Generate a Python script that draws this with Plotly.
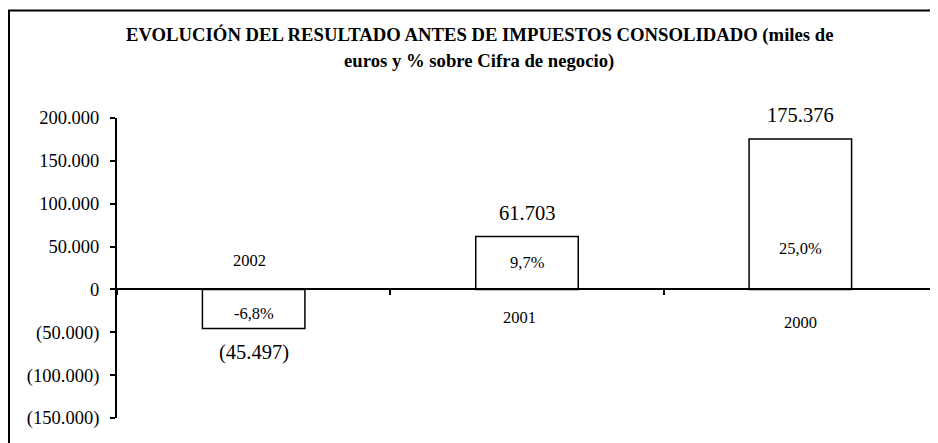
import plotly.graph_objects as go

years = ["2002", "2001", "2000"]
values = [-45497, 61703, 175376]
value_labels = ["(45.497)", "61.703", "175.376"]
pct_labels = ["-6,8%", "9,7%", "25,0%"]
y_ticks = [200000, 150000, 100000, 50000, 0, -50000, -100000, -150000]
y_tick_labels = ["200.000", "150.000", "100.000", "50.000", "0", "(50.000)", "(100.000)", "(150.000)"]
title_lines = ["EVOLUCIÓN DEL RESULTADO ANTES DE IMPUESTOS CONSOLIDADO (miles de",
               "euros y % sobre Cifra de negocio)"]

# page body has an 8px margin: figure drawn 8px in from the window edge
OFF = 8
W, H = 938 - OFF, 443 - OFF
L, R, T, B = 117 - OFF, 1, 118 - OFF, 25
YMIN, YMAX = -150000, 200000
FONT = "Liberation Serif, Times New Roman, serif"

def xp(px):
    return (px - OFF - L) / (W - L - R)

def yp(py):
    return (H - B - (py - OFF)) / (H - T - B)

fig = go.Figure()
fig.add_trace(go.Bar(
    x=years, y=values, width=0.375,
    marker=dict(color="white", line=dict(color="black", width=1.5)),
    hoverinfo="skip", showlegend=False,
))

ann = []
# value labels above/below bars
for i, (v, lab) in enumerate(zip(values, value_labels)):
    ann.append(dict(x=i, y=v, text=lab, showarrow=False, xref="x", yref="y",
                    xanchor="center", yanchor="middle",
                    yshift=24 if v > 0 else -24,
                    font=dict(family=FONT, size=20.5, color="black")))
# percent labels inside bars (placement per bar)
pct_pos = [-28000, 31500, 48000]
for i, (p, lab) in enumerate(zip(pct_pos, pct_labels)):
    ann.append(dict(x=i, y=p, text=lab, showarrow=False, xref="x", yref="y",
                    xanchor="center", yanchor="middle",
                    font=dict(family=FONT, size=16.5, color="black")))
# category labels (placed as in the original)
year_pos = [(249, 260), (519, 317), (800, 322)]
for yr, (px, py) in zip(years, year_pos):
    ann.append(dict(x=xp(px), y=yp(py), text=yr, showarrow=False, xref="paper", yref="paper",
                    xanchor="center", yanchor="middle",
                    font=dict(family=FONT, size=16.5, color="black")))
# title (two lines)
for line, py in zip(title_lines, [35, 61]):
    ann.append(dict(x=xp(479), y=yp(py), xref="paper", yref="paper", showarrow=False,
                    xanchor="center", yanchor="middle", text="<b>" + line + "</b>",
                    font=dict(family=FONT, size=18.7, color="black")))

shapes = [
    dict(type="line", xref="paper", yref="paper", x0=xp(8), x1=xp(950), y0=yp(10.5), y1=yp(10.5),
         line=dict(color="black", width=2)),
    dict(type="line", xref="paper", yref="paper", x0=xp(9), x1=xp(9), y0=yp(10), y1=yp(450),
         line=dict(color="black", width=2)),
]

zero_pos = (0 - YMIN) / (YMAX - YMIN)

fig.update_layout(
    width=W, height=H,
    margin=dict(l=L, r=R, t=T, b=B),
    paper_bgcolor="white", plot_bgcolor="white",
    font=dict(family=FONT, color="black"),
    annotations=ann, shapes=shapes,
    xaxis=dict(type="category", anchor="free", position=zero_pos, showline=True,
               linecolor="black", linewidth=2, ticks="outside", tickson="boundaries",
               ticklen=5, tickcolor="black", tickwidth=1.5, showticklabels=False, showgrid=False,
               zeroline=False, range=[-0.5, 2.5], fixedrange=True),
    yaxis=dict(range=[YMIN, YMAX], tickvals=y_ticks, ticktext=y_tick_labels,
               showline=True, linecolor="black", linewidth=2, ticks="outside",
               ticklen=5, tickcolor="black", tickwidth=1.5, showgrid=False, zeroline=False,
               tickfont=dict(family=FONT, size=18.5, color="black"), ticklabelstandoff=7),
)

fig.write_html("out.html")
